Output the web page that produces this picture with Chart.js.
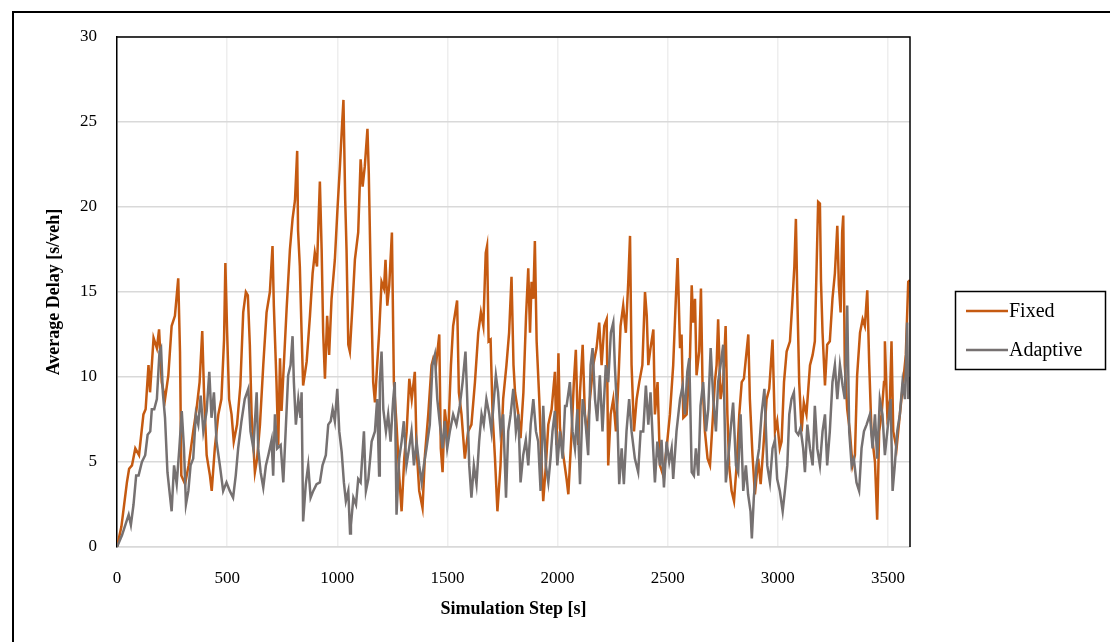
<!DOCTYPE html>
<html>
<head>
<meta charset="utf-8">
<script src="https://cdn.jsdelivr.net/npm/chart.js@4.4.1/dist/chart.umd.min.js"></script>
<style>
  html, body { margin: 0; padding: 0; background: #fff; }
  #wrap { position: relative; width: 1110px; height: 642px; }
</style>
</head>
<body>
<div id="wrap"><canvas id="delayChart" width="1110" height="642"></canvas></div>
<script>
// ===== Data =====
const seriesNames = ["Fixed", "Adaptive"];
const xTicks = [0, 500, 1000, 1500, 2000, 2500, 3000, 3500];
const yTicks = [0, 5, 10, 15, 20, 25, 30];

const fixedSteps = [
  0,20,45,55,68,83,100,120,130,143,150,166,181,191,203,218,233,248,263,278,
  286,292,309,325,346,361,375,387,395,407,422,430,444,460,474,486,492,500,509,520,
  530,545,560,573,585,594,603,611,626,636,649,664,679,694,706,712,724,732,740,747,
  755,770,785,797,808,818,822,830,838,845,861,876,888,898,908,921,929,936,944,954,
  963,974,989,1001,1012,1022,1028,1036,1042,1050,1057,1069,1080,1095,1106,1115,1125,1137,1143,1151,
  1163,1171,1181,1190,1201,1212,1219,1227,1236,1248,1257,1269,1281,1292,1304,1315,1327,1338,1352,1360,
  1372,1387,1398,1413,1428,1436,1448,1463,1470,1478,1488,1503,1516,1526,1538,1544,1552,1564,1579,1594,
  1609,1625,1640,1652,1663,1674,1680,1687,1696,1705,1716,1727,1741,1753,1768,1780,1791,1800,1807,1822,
  1832,1845,1857,1867,1875,1882,1890,1897,1905,1917,1928,1935,1947,1958,1973,1988,1995,2004,2011,2026,
  2041,2049,2064,2074,2083,2094,2102,2114,2124,2135,2147,2162,2177,2189,2200,2212,2223,2230,2241,2253,
  2265,2276,2286,2298,2310,2321,2329,2336,2347,2359,2371,2385,2397,2405,2412,2422,2435,2442,2454,2465,
  2480,2495,2510,2525,2537,2545,2556,2563,2571,2586,2601,2609,2616,2624,2631,2643,2651,2658,2669,2681,
  2692,2704,2714,2722,2729,2740,2752,2763,2771,2779,2790,2801,2813,2825,2836,2846,2855,2866,2873,2885,
  2896,2911,2922,2934,2949,2961,2976,2987,2997,3009,3017,3028,3040,3055,3065,3075,3082,3088,3097,3108,
  3118,3130,3146,3158,3168,3176,3183,3191,3196,3203,3214,3224,3236,3248,3259,3270,3277,3285,3292,3297,
  3304,3315,3327,3339,3350,3360,3373,3385,3395,3406,3415,3425,3441,3451,3460,3471,3482,3486,3497,3509,
  3516,3524,3539,3554,3569,3581,3592,3600
];
const fixedDelay = [
  0,1.2,3.8,4.6,4.8,5.8,5.4,7.8,8.1,10.7,9.1,12.3,11.7,12.8,9.7,8.7,10.1,13,13.6,15.8,
  11.5,4.2,3.7,4.8,6.8,8.1,9.7,12.7,9.1,5.4,4.2,3.3,5.8,7.8,8.7,12.2,16.7,12.6,8.7,7.8,
  6.2,7.2,9.5,13.8,15,14.8,11.9,7.8,4.4,5.2,7.2,10.7,13.8,15,17.7,14.2,9.7,6,11.1,8,
  10.1,14,17.5,19.3,20.4,23.3,18.6,16.5,12.6,9.5,10.9,13.6,16.1,17.3,16.5,21.5,17.5,12.6,9.9,13.6,
  11.3,14.6,16.9,19.9,22.4,24.9,26.3,20.4,17.5,11.9,11.5,14.2,16.9,18.5,22.8,21.2,22.4,24.6,22,16.5,
  9.7,8.5,10.7,12.6,15.6,15.2,16.9,14.2,15.4,18.5,9.7,7.2,4.2,2.1,5.2,6.8,9.9,8.7,10.3,5.8,
  3.3,2.3,5.4,7.8,10.7,11.1,10.7,12.5,5.8,4.4,8.1,6.4,10.7,13,14,14.5,9.1,7.8,5.2,6.8,
  7.2,9.7,12.6,13.8,13,17.3,17.7,12.1,12.2,7.8,5.2,2.1,4.8,8.7,10.7,12.6,15.9,10.7,9.1,7.8,
  6.4,9.1,13.6,16.4,12.6,15.6,14.6,18,12.1,8.7,4.8,2.7,4.8,7.2,8.1,10.3,6,11.4,7,5.4,
  4,3.1,6.8,9.7,11.6,6,9.1,11.9,7.8,6.6,8.7,10.7,11.7,13.2,10.7,13,13.4,4.8,7.8,8.7,
  6.8,9.7,13,14.2,12.6,15.6,18.3,10.7,6.8,8.7,9.7,10.7,15,13.6,10.7,11.7,12.8,7.8,9.7,4.8,
  4.2,5.8,7.8,10.7,14.6,17,11.7,12.5,7.6,7.8,11.1,15.4,13.2,14.6,10.1,11.5,15.2,9.7,6.8,5.2,
  4.8,7.4,9.7,10.7,13.4,8.7,9.7,13,7.8,4.8,3.3,2.7,4.8,7.8,9.7,9.9,11.1,12.5,8.7,5.4,
  3.1,5.2,3.7,5.8,8.7,9.3,12.2,6.8,7.4,5.8,6.2,9.7,11.5,12.1,14.2,16.5,19.3,15,9.7,6.8,
  8.5,7.8,10.7,11.3,12.1,16.5,20.3,20.2,15.6,12.6,9.5,11.9,12.1,14.6,16.1,18.9,15.4,13.8,18.5,19.5,
  10.7,8.1,6.8,4.8,5.4,10.1,12.6,13.4,13,15.1,10.7,6.8,5,1.6,6.8,7.8,9.7,12.1,7.8,8.7,
  12.1,6.8,5.8,7.8,9.7,11.3,15.6,15.7
];

const adaptiveSteps = [
  0,23,38,53,63,75,87,98,113,128,139,151,158,169,181,193,200,208,218,229,
  238,248,259,271,283,294,304,313,324,334,346,358,369,380,392,407,419,429,440,452,
  467,482,497,512,527,539,550,565,580,596,606,619,634,641,652,664,676,687,702,709,
  717,727,743,755,767,777,788,797,803,812,823,833,838,845,857,868,879,891,906,921,
  933,948,959,970,979,989,1000,1009,1020,1030,1039,1050,1058,1062,1073,1085,1095,1106,1121,1130,
  1141,1156,1171,1181,1190,1193,1201,1209,1221,1231,1242,1254,1261,1269,1281,1292,1302,1314,1326,1337,
  1348,1360,1372,1383,1393,1405,1420,1432,1443,1454,1466,1478,1488,1499,1511,1526,1541,1556,1569,1582,
  1590,1599,1609,1620,1632,1644,1655,1665,1677,1690,1700,1711,1720,1730,1741,1753,1760,1766,1776,1787,
  1799,1811,1822,1832,1844,1856,1867,1878,1890,1902,1912,1923,1935,1947,1958,1968,1977,1988,1999,2011,
  2023,2034,2041,2056,2068,2079,2090,2102,2114,2124,2139,2150,2159,2170,2180,2192,2204,2219,2230,2242,
  2253,2260,2271,2280,2291,2301,2313,2325,2336,2351,2366,2377,2389,2401,2412,2422,2434,2442,2453,2465,
  2472,2483,2495,2507,2518,2525,2540,2556,2568,2578,2589,2598,2609,2619,2628,2639,2649,2661,2674,2684,
  2695,2707,2719,2729,2740,2752,2764,2775,2785,2797,2810,2820,2831,2843,2855,2865,2876,2882,2891,2903,
  2915,2926,2939,2952,2964,2976,2987,2997,3009,3022,3032,3043,3052,3062,3073,3082,3093,3103,3115,3123,
  3134,3146,3158,3168,3179,3191,3203,3214,3224,3236,3248,3259,3270,3282,3294,3304,3315,3324,3335,3345,
  3357,3369,3380,3391,3403,3418,3430,3441,3451,3463,3475,3486,3497,3512,3521,3531,3542,3554,3566,3577,
  3587,3592,3600
];
const adaptiveDelay = [
  0,0.7,1.3,1.9,1.3,2.5,4.2,4.2,5,5.4,6.6,6.8,8.1,8.1,8.7,11.5,11.7,9.1,7.6,4.4,
  3.3,2.1,4.8,3.7,5.8,8,5.8,2.5,3.3,4.8,5.2,7.8,7.2,8.9,6.8,8,10.3,7.6,9.1,6.2,
  4.8,3.3,3.8,3.3,2.9,4.2,5.8,7.4,8.7,9.3,6.8,5.8,9.1,5.8,4.4,3.5,4.8,5.4,6.3,4.2,
  7.8,5.8,6,3.8,7.2,10.1,10.7,12.4,9.7,7.2,8.7,7.6,9.1,1.5,3.7,4.8,2.9,3.3,3.7,3.8,
  4.8,5.4,7.2,7.4,8.1,7.4,9.3,6.8,5.6,3.8,2.7,3.3,0.8,1.3,2.9,2.5,4,3.8,6.8,3.3,
  4,6.2,6.8,8.7,4.2,9.7,11.5,8.1,6.8,7.8,6.2,8.7,9.7,1.9,5.2,6.2,7.4,4.8,5.8,6.8,
  4.8,6.2,4.8,3.8,4.8,5.8,7.2,10.7,11.3,8.7,7.2,5.8,7.4,5.8,6.8,7.8,7.2,8.3,9.7,11.5,
  8.7,4.8,2.9,4.8,3.7,6.2,7.8,7.2,8.7,7.8,6.8,8.7,10.1,9.1,6.8,7.8,5.2,2.9,6.8,7.8,
  9.3,6.8,7.8,3.8,5.4,6.3,4.8,7.2,8.7,6.8,6.2,3.3,8.3,4.8,3.8,5.2,6.8,8,4.8,6.8,
  5.2,8.3,8.3,9.7,6.8,5.8,8.1,3.7,8.7,7.8,5.4,10.7,11.7,8.7,7.4,10.1,6.8,10.7,9.7,12.6,
  13.2,10.7,7.8,3.7,5.8,3.7,6.8,8.7,6.8,5.2,4.4,6.8,6.8,9.5,7.2,9.1,5.8,3.8,6.2,4.8,
  6.3,3.5,6.2,5,5.8,4,6.8,8.7,9.5,7.8,10.3,11.1,4.4,4.2,5.8,4.2,8.3,9.7,6.8,8.1,
  11.7,8.7,6.8,9.7,10.7,11.9,3.8,5.2,6.8,8.5,4.8,4.4,7.8,3.3,4.8,3.1,2.1,0.5,2.9,4.8,
  5.8,7.8,9.3,4.8,3.8,5.8,6.3,4,3.3,2.1,3.3,4.8,7.8,8.7,9.1,6.8,6.6,7,5.8,4.4,
  7.2,5.8,4.8,8.3,5.8,4.8,6.8,7.8,4.8,6.8,9.7,10.7,8.7,10.7,9.5,8.7,14.2,6.8,4.8,5.2,
  3.8,3.3,5.8,6.8,7.2,7.8,5.8,7.8,5.2,8.7,7.8,5.4,6.8,8.7,3.3,4.8,6.8,7.8,9.7,8.7,
  13.2,8.7,10
];

const toPoints = (xs, ys) => xs.map((x, i) => ({ x: x, y: ys[i] }));

const fixedColor = "#C55A11";
const adaptiveColor = "#767171";
const serif = "'Liberation Serif', 'Times New Roman', serif";

// ===== Frame, plot border and boxed legend =====
const decorPlugin = {
  id: "decor",
  afterDraw(chart) {
    const ctx = chart.ctx;
    const a = chart.chartArea;
    ctx.save();
    // outer frame (top + left)
    ctx.strokeStyle = "#000";
    ctx.lineWidth = 2;
    ctx.beginPath();
    ctx.moveTo(13, 642);
    ctx.lineTo(13, 12);
    ctx.lineTo(1110, 12);
    ctx.stroke();
    // plot border top + right
    ctx.lineWidth = 1.5;
    ctx.beginPath();
    ctx.moveTo(a.left, a.top);
    ctx.lineTo(a.right, a.top);
    ctx.lineTo(a.right, a.bottom);
    ctx.stroke();
    // legend box
    ctx.lineWidth = 1.5;
    ctx.strokeRect(955.5, 291.5, 150, 78);
    const ds = chart.data.datasets;
    const rows = [311, 350];
    ctx.font = "20px " + serif;
    ctx.textBaseline = "middle";
    ctx.fillStyle = "#000";
    ds.forEach((d, i) => {
      ctx.strokeStyle = d.borderColor;
      ctx.lineWidth = 2.5;
      ctx.beginPath();
      ctx.moveTo(966, rows[i]);
      ctx.lineTo(1008, rows[i]);
      ctx.stroke();
      ctx.fillText(d.label, 1009, rows[i] + 1);
    });
    ctx.restore();
  }
};

const el = document.getElementById("delayChart");
new Chart(el, {
  type: "line",
  data: {
    datasets: [
      {
        label: seriesNames[0],
        data: toPoints(fixedSteps, fixedDelay),
        borderColor: fixedColor,
        borderWidth: 2.5,
        pointRadius: 0,
        tension: 0,
        order: 1
      },
      {
        label: seriesNames[1],
        data: toPoints(adaptiveSteps, adaptiveDelay),
        borderColor: adaptiveColor,
        borderWidth: 2.5,
        pointRadius: 0,
        tension: 0,
        order: 0
      }
    ]
  },
  options: {
    responsive: false,
    animation: false,
    layout: { padding: { top: 37, right: 200, left: 0, bottom: 0 } },
    plugins: { legend: { display: false }, tooltip: { enabled: false } },
    scales: {
      x: {
        type: "linear",
        min: 0,
        max: 3600,
        afterBuildTicks: s => { s.ticks = xTicks.map(v => ({ value: v })); },
        afterFit: s => { s.height = 95; },
        ticks: {
          color: "#000",
          font: { family: serif, size: 17 },
          padding: 21,
          maxRotation: 0,
          callback: v => String(v)
        },
        grid: { color: "#eeeeee", lineWidth: 1.5, drawTicks: false },
        border: { color: "#d9d9d9", width: 1.5 },
        title: {
          display: true,
          text: "Simulation Step [s]",
          color: "#000",
          font: { family: serif, size: 18, weight: "bold" },
          padding: { top: 0, bottom: 22 }
        }
      },
      y: {
        min: 0,
        max: 30,
        afterBuildTicks: s => { s.ticks = yTicks.map(v => ({ value: v })); },
        afterFit: s => { s.width = 117; },
        ticks: { color: "#000", font: { family: serif, size: 17 }, padding: 20 },
        grid: { color: "#d9d9d9", lineWidth: 1.5, drawTicks: false },
        border: { color: "#000", width: 1.5 },
        title: {
          display: true,
          text: "Average Delay [s/veh]",
          color: "#000",
          font: { family: serif, size: 18, weight: "bold" },
          padding: { top: 44, bottom: 0 }
        }
      }
    }
  },
  plugins: [decorPlugin]
});
</script>
</body>
</html>
